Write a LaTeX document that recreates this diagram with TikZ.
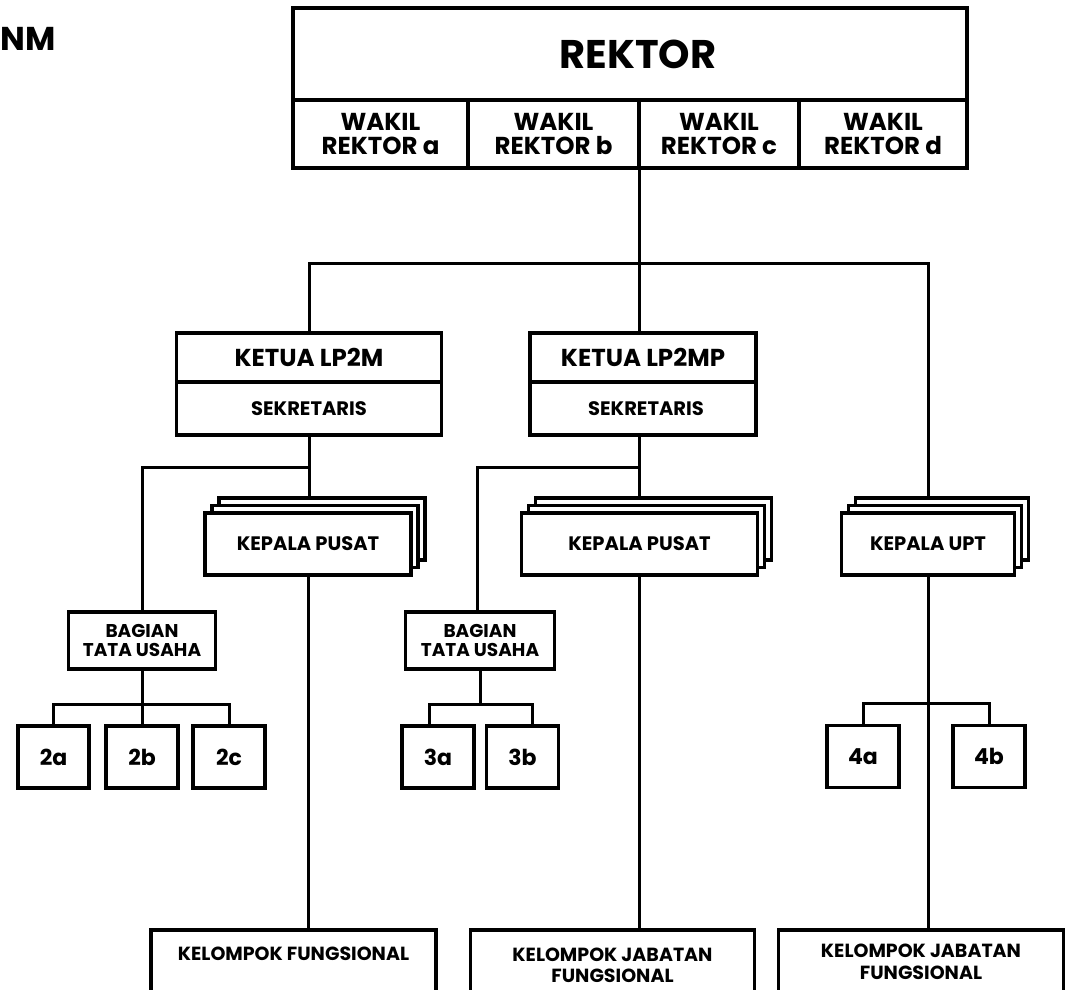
\documentclass[tikz,border=0pt]{standalone}
\usepackage{fontspec}
\setmainfont{Poppins}
\usepackage{tikz}
\usetikzlibrary{calc}

\newcommand{\fs}[1]{\bfseries\fontsize{#1}{#1}\selectfont}
\newcommand{\geser}[2]{\raisebox{#1}[\height][\depth]{#2}}

\begin{document}
\begin{tikzpicture}[x=1pt,y=-1pt,
    kotak/.style={draw, line width=3.5pt, fill=white, rectangle, inner sep=0pt, align=center},
    wakil/.style={kotak, minimum height=68pt, font=\fs{24.5}},
    tumpuk/.style={kotak, minimum height=62pt},
    kecil/.style={kotak, minimum width=72pt, minimum height=62pt, font=\fs{22}},
    kelompok/.style={kotak, minimum width=285pt, minimum height=70pt, font=\fs{19}},
    garis/.style={line width=3pt}]
  \useasboundingbox (0,0) rectangle (1072,989);

  \node[anchor=base west, inner sep=0pt, font=\fs{33}] (judul) at (0,50) {NM};

  % rektor dan wakil
  \node[kotak, minimum width=674pt, minimum height=92pt, font=\fs{40}] (rektor) at (630,54) {\hspace*{16pt}REKTOR};
  \node[wakil, minimum width=175pt] (wra) at (380.5,134) {WAKIL\\[-0.5pt]REKTOR a};
  \node[wakil, minimum width=171pt] (wrb) at (553.5,134) {WAKIL\\[-0.5pt]REKTOR b};
  \node[wakil, minimum width=160pt] (wrc) at (719,134) {WAKIL\\[-0.5pt]REKTOR c};
  \node[wakil, minimum width=168pt] (wrd) at (883,134) {WAKIL\\[-0.5pt]REKTOR d};

  % ketua
  \node[kotak, minimum width=265pt, minimum height=49pt, font=\fs{24.5}] (ketua1) at (309,357.5) {KETUA LP2M};
  \node[kotak, minimum width=265pt, minimum height=53pt, font=\fs{19.5}] (sekre1) at (309,408.5) {SEKRETARIS};
  \node[kotak, minimum width=226pt, minimum height=49pt, font=\fs{24.5}] (ketua2) at (643,357.5) {KETUA LP2MP};
  \node[kotak, minimum width=226pt, minimum height=53pt, font=\fs{19.5}] (sekre2) at (643,408.5) {\hspace*{6pt}SEKRETARIS};

  % kepala pusat / upt (bertumpuk)
  \node[tumpuk, minimum width=206pt] (kp1c) at (322,529) {};
  \node[tumpuk, minimum width=206pt] (kp1b) at (315,536.5) {};
  \node[tumpuk, minimum width=206pt, font=\fs{19.5}] (kp1) at (308,544) {KEPALA PUSAT};
  \node[tumpuk, minimum width=236pt] (kp2c) at (653.5,529) {};
  \node[tumpuk, minimum width=236pt] (kp2b) at (646.5,536.5) {};
  \node[tumpuk, minimum width=236pt, font=\fs{19.5}] (kp2) at (639.5,544) {KEPALA PUSAT};
  \node[tumpuk, minimum width=173pt] (uptc) at (942,529) {};
  \node[tumpuk, minimum width=173pt] (uptb) at (935,536.5) {};
  \node[tumpuk, minimum width=173pt, font=\fs{19.5}] (upt) at (928,544) {KEPALA UPT};

  % tata usaha
  \node[kotak, minimum width=147pt, minimum height=57pt, font=\fs{18.5}] (bagian1) at (142,640.5) {BAGIAN\\TATA USAHA};
  \node[kotak, minimum width=149pt, minimum height=57pt, font=\fs{18.5}] (bagian2) at (480,640.5) {BAGIAN\\TATA USAHA};

  \node[kecil, minimum width=71pt] (s2a) at (53.5,757) {2a};
  \node[kecil] (s2b) at (142,757) {2b};
  \node[kecil] (s2c) at (229,757) {2c};
  \node[kecil] (s3a) at (438,757) {3a};
  \node[kecil] (s3b) at (522.5,757) {3b};
  \node[kecil] (s4a) at (863,756.5) {4a};
  \node[kecil] (s4b) at (989,756.5) {4b};

  % kelompok fungsional (terpotong di tepi bawah)
  \node[kelompok] (kf1) at (293.5,965) {\geser{11pt}{KELOMPOK FUNGSIONAL}};
  \node[kelompok, minimum width=284pt] (kf2) at (612.5,965) {\geser{-3pt}{\begin{tabular}{@{}c@{}}KELOMPOK JABATAN\\[2.5pt]FUNGSIONAL\end{tabular}}};
  \node[kelompok] (kf3) at (921,965) {\geser{0.5pt}{\begin{tabular}{@{}c@{}}KELOMPOK JABATAN\\[2pt]FUNGSIONAL\end{tabular}}};

  % garis
  \coordinate (bus) at (639,263);
  \coordinate (cab1) at (309,467);
  \coordinate (cab2) at (639,467);
  \coordinate (sub1) at (142,704);
  \coordinate (sub2) at (480,704);
  \coordinate (sub4) at (928,703);

  \draw[garis] (bus |- wrc.south) -- (bus);
  \draw[garis] (ketua1.north) |- (bus) -| (upt.north |- uptc.north);
  \draw[garis] (bus) -- (bus |- ketua2.north);

  \draw[garis] (sekre1.south) -- (sekre1.south |- kp1c.north);
  \draw[garis] (cab1) -| (bagian1.north);
  \draw[garis] (cab2 |- sekre2.south) -- (cab2 |- kp2c.north);
  \draw[garis] (cab2) -| ([xshift=-3pt]bagian2.north);

  \draw[garis] (bagian1.south) -- (sub1);
  \draw[garis] (s2a.north) |- (sub1) -| (s2c.north);
  \draw[garis] (sub1) -- (s2b.north);
  \draw[garis] (bagian2.south) -- (sub2);
  \draw[garis] ([xshift=-9pt]s3a.north) |- (sub2) -| ([xshift=10pt]s3b.north);
  \draw[garis] (s4a.north) |- (sub4) -| (s4b.north);

  \draw[garis] (kp1.south) -- (kp1.south |- kf1.north);
  \draw[garis] (kp2.south) -- (kp2.south |- kf2.north);
  \draw[garis] (upt.south) -- (upt.south |- kf3.north);
\end{tikzpicture}
\end{document}
